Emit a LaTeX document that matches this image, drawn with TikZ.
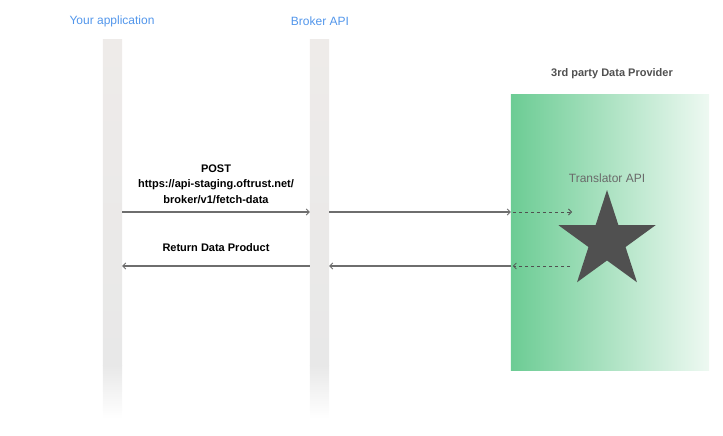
\documentclass[tikz,border=0pt]{standalone}
\usepackage{fontspec}
\setmainfont{Liberation Sans}
\usetikzlibrary{arrows.meta,shapes.geometric}
\definecolor{lane}{RGB}{238,235,233}
\definecolor{lanelow}{RGB}{232,232,232}
\definecolor{titleblue}{RGB}{82,150,235}
\definecolor{provgreen}{RGB}{108,204,148}
\definecolor{provlight}{RGB}{238,249,242}
\definecolor{msgline}{RGB}{110,110,110}
\definecolor{stargray}{RGB}{80,80,80}
\tikzset{
  lifeline/.style={draw=none, minimum width=19pt, minimum height=378pt, inner sep=0pt},
  actor/.style={text=titleblue, font=\fontsize{12}{14}\selectfont},
  msg/.style={msgline, line width=1.1pt, -{Straight Barb[length=3pt,width=6pt,line width=0.8pt]}},
  inner msg/.style={stargray, line width=0.8pt, dash pattern=on 3pt off 3pt, -{Straight Barb[length=3pt,width=6pt]}},
  msglabel/.style={font=\bfseries\fontsize{11}{15.5}\selectfont, align=center}
}
\begin{document}
\begin{tikzpicture}[x=1pt, y=-1pt]
        \useasboundingbox (0,0) rectangle (723,436);

        % The Lifelines
        \node[lifeline] (app) at (112.5,229) {};
        \node[lifeline] (broker) at (319.5,229) {};
        \foreach \l in {app, broker} {
          \shade[top color=lane, bottom color=lanelow] (\l.north west) rectangle (\l.east |- 0,365);
          \shade[top color=lanelow, bottom color=white] (\l.west |- 0,365) rectangle (\l.south east);
        }
        \node[actor] (apptitle) at (112,21) {Your application};
        \node[actor] (brokertitle) at (320,21) {Broker API};

        % The Data Provider
        \node[draw=none, minimum width=198pt, minimum height=275pt, inner sep=0pt] (provider) at (610,232.5) {};
        \shade[left color=provgreen, right color=provlight] (provider.north west) rectangle (provider.south east);
        \node[text=stargray, font=\bfseries\fontsize{11}{14}\selectfont] (provtitle) at (612,74) {3rd party Data Provider};
        \node[star, star points=5, star point ratio=2.618, minimum size=102pt, inner sep=0pt, fill=stargray] (translator) at (607,241) {};
        \node[text=stargray!85, font=\fontsize{12}{14}\selectfont] (transtitle) at (607,178) {Translator API};
        \coordinate (reqend) at (572,212);
        \coordinate (retstart) at (570,266);

        % Request
        \draw[msg] (app.east |- 0,212) -- (broker.west |- 0,212);
        \draw[msg] (broker.east |- 0,212) -- (provider.west |- 0,212);
        \draw[inner msg] (provider.west |- 0,212) ++(2,0) -- (reqend);
        \node[msglabel] (reqlabel) at (216,184) {POST\\https://api-staging.oftrust.net/\\broker/v1/fetch-data};

        % Response
        \draw[inner msg] (retstart) -- ([xshift=2pt]provider.west |- 0,266);
        \draw[msg] (provider.west |- 0,266) -- (broker.east |- 0,266);
        \draw[msg] (broker.west |- 0,266) -- (app.east |- 0,266);
        \node[msglabel] (retlabel) at (216,248) {Return Data Product};
    \end{tikzpicture}
\end{document}
